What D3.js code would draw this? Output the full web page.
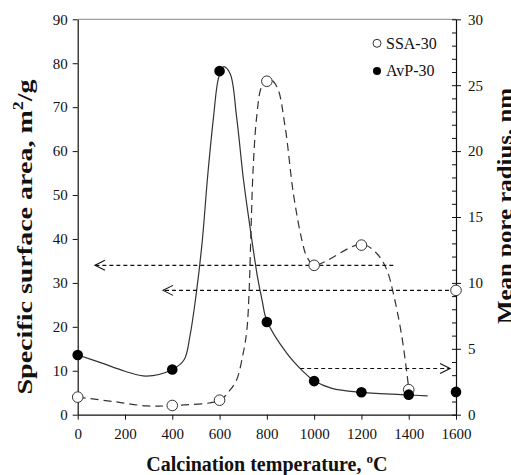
<!DOCTYPE html>
<html>
<head>
<meta charset="utf-8">
<script src="https://cdn.jsdelivr.net/npm/d3@7"></script>
<style>
body { margin: 0; background: #fff; }
svg { display: block; }
text { font-family: "Liberation Serif", "Times New Roman", serif; fill: #111; }
</style>
</head>
<body>
<svg id="svg_main" width="511" height="475"></svg>
<script>
// measured points
var temps = [0, 400, 600, 800, 1000, 1200, 1400, 1600];
var ssa = [4.0, 2.1, 3.3, 75.9, 34.0, 38.6, 5.7, 28.3];        // m2/g, left axis
var avp = [4.53, 3.43, 26.07, 7.03, 2.55, 1.70, 1.52, 1.73];    // nm, right axis

// smoothed lines as drawn in the picture
var ssaLineT = [0, 150, 292, 400, 600, 644, 672, 700, 715, 725, 733, 742, 757, 778, 806, 842, 877, 912, 948, 969, 1000, 1200, 1265, 1307, 1335, 1371, 1400];
var ssaLineV = [4.0, 3.0, 2.0, 2.1, 3.3, 5.6, 7.9, 14.0, 19.0, 28.0, 42.0, 56.0, 67.8, 74.7, 76.6, 74.7, 65.6, 50.4, 39.8, 36.0, 34.1, 38.8, 36.7, 33.0, 27.6, 17.8, 6.0];
var avpLineT = [0, 100, 200, 290, 400, 450, 475, 500, 525, 550, 575, 595, 616, 644, 672, 700, 720, 740, 760, 780, 800, 884, 954, 1000, 1075, 1200, 1400, 1480];
var avpLineV = [4.53, 3.93, 3.30, 2.93, 3.43, 4.17, 6.00, 9.00, 12.83, 18.17, 22.67, 25.50, 26.40, 25.90, 22.60, 18.00, 15.33, 12.83, 10.50, 8.67, 7.13, 4.67, 3.27, 2.57, 2.00, 1.70, 1.50, 1.43];

// dashed arrows: from temp, to temp, value, axis
var arrowFrom = [1335, 1600, 941];
var arrowTo = [73, 361, 1575];
var arrowVal = [34.0, 28.3, 3.5];
var arrowAxis = ["left", "left", "right"];

var xTicks = d3.range(0, 1601, 200);
var leftTicks = d3.range(0, 91, 10);
var rightTicks = d3.range(0, 31, 5);
var rightMinor = d3.range(0, 31, 1);

var legendNames = ["SSA-30", "AvP-30"];

var margin = { top: 19.3, right: 55, bottom: 60.3, left: 77.7 };
var W = 511, H = 475;
var width = W - margin.left - margin.right,
	height = H - margin.top - margin.bottom;

var svg = d3.select("#svg_main");
var g = svg.append("g")
	.attr("transform", `translate(${margin.left}, ${margin.top})`);

var x = d3.scaleLinear().domain([0, 1600]).range([0, width]);
var yL = d3.scaleLinear().domain([0, 90]).range([height, 0]);
var yR = d3.scaleLinear().domain([0, 30]).range([height, 0]);

// top frame line
g.append("line")
	.attr("x1", 0).attr("x2", width)
	.attr("y1", 0).attr("y2", 0)
	.attr("stroke", "#888")
	.attr("stroke-width", 1);

g.append("g")
	.attr("transform", `translate(0, ${height})`)
	.call(d3.axisBottom(x).tickValues(xTicks).tickFormat(d3.format("d")).tickSize(5).tickPadding(9).tickSizeOuter(0));
g.append("g")
	.call(d3.axisLeft(yL).tickValues(leftTicks).tickFormat(d3.format("d")).tickSize(5).tickPadding(5).tickSizeOuter(0));
g.append("g")
	.attr("transform", `translate(${width}, 0)`)
	.call(d3.axisRight(yR).tickValues(rightTicks).tickFormat(d3.format("d")).tickSize(5).tickPadding(7).tickSizeOuter(0));

// minor ticks on the right axis, pointing inward
g.append("g")
	.attr("transform", `translate(${width}, 0)`)
	.call(d3.axisLeft(yR).tickValues(rightMinor).tickSize(4).tickFormat("").tickSizeOuter(0))
	.select(".domain").remove();

g.selectAll(".domain").attr("stroke", "#111").attr("stroke-width", 1.2);
g.selectAll(".tick line").attr("stroke", "#111").attr("stroke-width", 1);
g.selectAll(".tick text")
	.attr("font-family", "Liberation Serif")
	.attr("font-size", "15px")
	.attr("fill", "#111");

// lines
var ssaLine = d3.line()
	.x((d, i) => x(ssaLineT[i]))
	.y(d => yL(d))
	.curve(d3.curveCatmullRom);
var avpLine = d3.line()
	.x((d, i) => x(avpLineT[i]))
	.y(d => yR(d))
	.curve(d3.curveCatmullRom);

g.append("path")
	.attr("d", ssaLine(ssaLineV))
	.attr("fill", "none")
	.attr("stroke", "#333")
	.attr("stroke-width", 1.2)
	.attr("stroke-dasharray", "8,5");
g.append("path")
	.attr("d", avpLine(avpLineV))
	.attr("fill", "none")
	.attr("stroke", "#333")
	.attr("stroke-width", 1.2);

// arrows
for (let i = 0; i < arrowFrom.length; i++) {
	let yy = arrowAxis[i] == "left" ? yL(arrowVal[i]) : yR(arrowVal[i]);
	let x0 = x(arrowFrom[i]), x1 = x(arrowTo[i]);
	let dir = x1 < x0 ? 1 : -1;
	g.append("line")
		.attr("x1", x0).attr("x2", x1)
		.attr("y1", yy).attr("y2", yy)
		.attr("stroke", "#111")
		.attr("stroke-width", 1.1)
		.attr("stroke-dasharray", "4,3");
	g.append("path")
		.attr("d", `M${x1 + dir * 10},${yy - 5}L${x1},${yy}L${x1 + dir * 10},${yy + 5}`)
		.attr("fill", "none")
		.attr("stroke", "#111")
		.attr("stroke-width", 1.1);
}

// markers
g.selectAll(".ssa")
	.data(ssa)
	.enter().append("circle")
	.attr("class", "ssa")
	.attr("cx", (d, i) => x(temps[i]))
	.attr("cy", d => yL(d))
	.attr("r", 5.3)
	.attr("fill", "#fff")
	.attr("stroke", "#333")
	.attr("stroke-width", 1);
g.selectAll(".avp")
	.data(avp)
	.enter().append("circle")
	.attr("class", "avp")
	.attr("cx", (d, i) => x(temps[i]))
	.attr("cy", d => yR(d))
	.attr("r", 5.3)
	.attr("fill", "#000");

// legend
var legend = g.append("g")
	.attr("transform", `translate(${width - 79}, 24)`);
legendNames.forEach((n, i) => {
	legend.append("circle")
		.attr("cx", 0).attr("cy", i * 27.7)
		.attr("r", 4)
		.attr("fill", i == 0 ? "#fff" : "#000")
		.attr("stroke", i == 0 ? "#333" : "none")
		.attr("stroke-width", 1);
	legend.append("text")
		.attr("x", 9).attr("y", i * 27.7 + 5.5)
		.attr("font-size", "16px")
		.text(n);
});

// axis titles
var xt = svg.append("text")
	.attr("x", margin.left + width / 2)
	.attr("y", 470.5)
	.attr("text-anchor", "middle")
	.attr("font-size", "20px")
	.attr("font-weight", "bold");
xt.append("tspan").text("Calcination temperature, ");
xt.append("tspan").attr("font-size", "13px").attr("dy", "-8").text("o");
xt.append("tspan").attr("dy", "8").text("C");

var lt = svg.append("text")
	.attr("transform", "translate(32, 237) rotate(-90)")
	.attr("text-anchor", "middle")
	.attr("font-size", "22px")
	.attr("font-weight", "bold")
	.attr("textLength", 315)
	.attr("lengthAdjust", "spacingAndGlyphs");
lt.append("tspan").text("Specific surface area, m");
lt.append("tspan").attr("font-size", "14px").attr("dy", "-9").text("2");
lt.append("tspan").attr("dy", "9").text("/g");

svg.append("text")
	.attr("transform", "translate(512, 206) rotate(-90)")
	.attr("text-anchor", "middle")
	.attr("font-size", "22px")
	.attr("font-weight", "bold")
	.attr("textLength", 236)
	.attr("lengthAdjust", "spacingAndGlyphs")
	.text("Mean pore radius, nm");
</script>
</body>
</html>
